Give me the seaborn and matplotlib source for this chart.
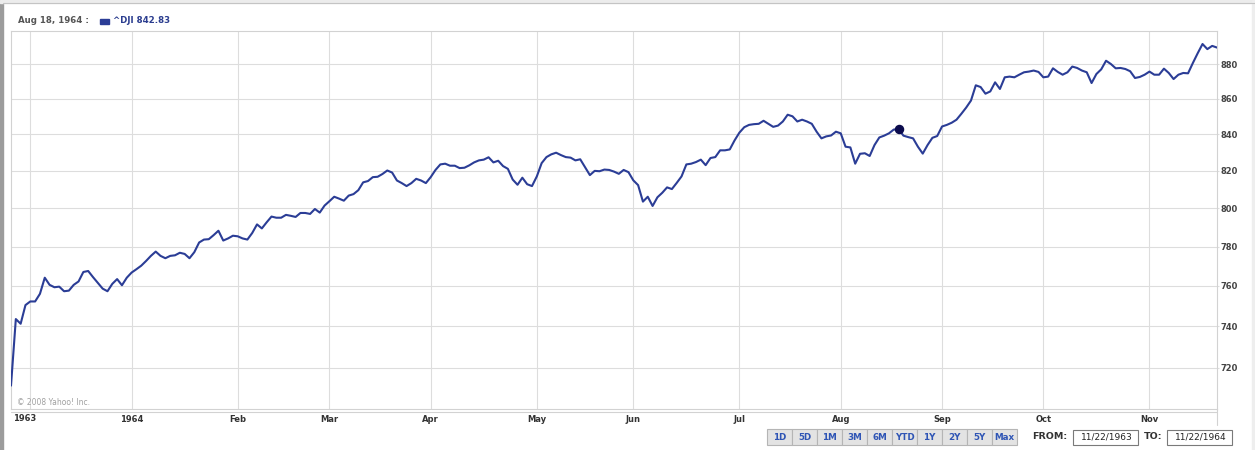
import numpy as np
import matplotlib
matplotlib.use('Agg')
import matplotlib.pyplot as plt
from matplotlib.patches import Rectangle
from matplotlib.lines import Line2D
from matplotlib.ticker import NullLocator
import seaborn as sns

# ^DJI daily close, 11/22/1963 - 11/20/1964
dji_close = [
    711.5, 743.5, 741.2, 750.4, 752.2, 752.2, 756.0, 764.1, 760.5, 759.3,
    759.6, 757.3, 757.6, 760.5, 762.2, 767.0, 767.5, 764.4, 761.5, 758.6,
    757.3, 761.0, 763.4, 760.3, 764.1, 766.7, 768.4, 770.2, 772.6, 775.2,
    777.4, 775.2, 774.0, 775.2, 775.5, 776.8, 776.2, 774.0, 777.1, 782.1,
    783.6, 783.8, 785.9, 788.2, 783.1, 784.2, 785.6, 785.3, 784.2, 783.6,
    787.0, 791.5, 789.4, 792.6, 795.6, 795.0, 795.0, 796.5, 796.0, 795.4,
    797.5, 797.5, 797.0, 799.6, 797.7, 801.4, 803.7, 806.1, 805.1, 804.0,
    806.7, 807.5, 809.6, 813.8, 814.5, 816.6, 816.8, 818.3, 820.2, 819.1,
    814.8, 813.4, 811.8, 813.4, 815.7, 814.8, 813.4, 816.6, 820.5, 823.5,
    823.9, 822.8, 822.8, 821.5, 821.7, 823.0, 824.6, 825.7, 826.1, 827.4,
    824.6, 825.5, 822.6, 821.1, 815.3, 812.5, 816.3, 812.8, 811.8, 817.0,
    824.2, 827.5, 829.0, 829.9, 828.6, 827.5, 827.2, 825.7, 826.3, 822.0,
    817.7, 820.0, 819.8, 820.7, 820.5, 819.6, 818.4, 820.5, 819.3, 814.9,
    812.3, 803.5, 806.1, 801.2, 805.8, 808.2, 811.1, 810.2, 813.5, 817.0,
    823.5, 823.9, 824.8, 826.1, 823.1, 827.0, 827.5, 831.2, 831.2, 831.7,
    836.7, 841.0, 844.0, 845.3, 845.7, 845.9, 847.6, 845.9, 844.2, 844.9,
    847.2, 851.0, 850.1, 847.2, 848.2, 847.2, 845.9, 841.5, 837.8, 838.9,
    839.4, 841.5, 840.6, 833.2, 832.8, 823.9, 829.3, 829.6, 828.1, 834.1,
    838.3, 839.3, 840.6, 842.7, 842.83, 839.3, 838.5, 837.8, 833.2, 829.4,
    834.1, 838.1, 839.1, 844.4, 845.3, 846.5, 848.2, 851.5, 855.0, 859.0,
    867.7, 866.7, 862.9, 864.2, 869.4, 865.6, 872.3, 872.7, 872.3, 873.8,
    875.2, 875.6, 876.2, 875.4, 872.3, 872.7, 877.5, 875.4, 873.8, 875.2,
    878.5, 877.7, 876.2, 875.2, 869.0, 874.2, 876.9, 881.9, 880.0, 877.5,
    877.7, 877.1, 875.8, 871.9, 872.5, 873.8, 875.6, 873.8, 873.8, 877.3,
    874.8, 871.3, 873.8, 874.8, 874.6, 880.6, 886.3, 891.7, 888.7, 890.6,
    889.6,
]
day = np.arange(len(dji_close))

# trading-day index of the first session of each month
month_pos = [4, 25, 47, 66, 87, 109, 129, 151, 172, 193, 214, 236]
month_labels = ['', '1964', 'Feb', 'Mar', 'Apr', 'May', 'Jun', 'Jul', 'Aug', 'Sep', 'Oct', 'Nov']
first_label = '1963'
y_ticks = [720, 740, 760, 780, 800, 820, 840, 860, 880]

hover_day = 184
hover_text = 'Aug 18, 1964 :'
symbol = '^DJI'
ranges = ['1D', '5D', '1M', '3M', '6M', 'YTD', '1Y', '2Y', '5Y', 'Max']
date_from = '11/22/1963'
date_to = '11/22/1964'

LINE = '#2b3d96'
GRID = '#dddddd'
W, H = 1255, 450

sns.set_style('white')
plt.rcParams['font.family'] = ['DejaVu Sans']

fig = plt.figure(figsize=(W / 100, H / 100), dpi=100)
fig.patch.set_facecolor('white')


def fx(px):
    return px / W


def fy(py):
    return 1 - py / H


# page frame bits
fig.patches.append(Rectangle((0, fy(450)), fx(2.5), 1, transform=fig.transFigure, color='#9c9c9c', zorder=0))
fig.patches.append(Rectangle((0, fy(3)), 1, fy(0) - fy(3), transform=fig.transFigure, color='#ececec', zorder=0))
fig.patches.append(Rectangle((fx(1252), 0), fx(3), 1, transform=fig.transFigure, color='#eeeeee', zorder=0))
fig.lines.append(Line2D([fx(2.5), 1], [fy(3.3), fy(3.3)], transform=fig.transFigure, color='#c4c4c4', lw=0.8))

ax = fig.add_axes([fx(11), fy(409), fx(1217) - fx(11), fy(30.5) - fy(409)])
sns.lineplot(x=day, y=dji_close, ax=ax, color=LINE, linewidth=1.5, zorder=3)
ax.scatter([day[hover_day]], [dji_close[hover_day]], s=34, color='#0b0b4d', zorder=4)

ax.set_yscale('log')
ax.set_ylim(700.6, 899.7)
ax.set_xlim(0, len(dji_close) - 1)
ax.set_yticks(y_ticks, labels=[str(v) for v in y_ticks])
ax.yaxis.set_minor_locator(NullLocator())
ax.set_xticks(month_pos, labels=month_labels)
ax.xaxis.set_minor_locator(NullLocator())
ax.yaxis.tick_right()
ax.set_xlabel('')
ax.set_ylabel('')
ax.grid(True, color=GRID, lw=0.8, zorder=0)
ax.set_axisbelow(True)
for sp in ax.spines.values():
    sp.set_color('#d2d2d2')
    sp.set_linewidth(0.8)
ax.tick_params(axis='y', length=1.5, width=0.8, color=GRID, pad=1.0,
               labelsize=6, labelcolor='#444444')
ax.tick_params(axis='x', length=0, pad=4.2, labelsize=6, labelcolor='#333333')
for lab in ax.get_xticklabels() + ax.get_yticklabels():
    lab.set_fontweight('bold')

ax.annotate(first_label, xy=(0, 0), xycoords=('data', 'axes fraction'),
            xytext=(2, -9.5), textcoords='offset pixels', ha='left', va='center',
            fontsize=6, fontweight='bold', color='#333333')
ax.text(0.005, 0.018, '\u00a9 2008 Yahoo! Inc.', transform=ax.transAxes,
        fontsize=5.5, color='#a0a0a0', ha='left', va='center')

# x-axis strip under the plot
fig.lines.append(Line2D([fx(11), fx(1217)], [fy(411.8), fy(411.8)], transform=fig.transFigure, color='#d2d2d2', lw=0.8))
fig.lines.append(Line2D([fx(1217), fx(1217)], [fy(409), fy(425)], transform=fig.transFigure, color='#d2d2d2', lw=0.8))

# header
fig.text(fx(18), fy(20.5), hover_text, fontsize=6.2, fontweight='bold', color='#555555', va='center')
fig.patches.append(Rectangle((fx(100), fy(23.5)), fx(8.5), fy(18.5) - fy(23.5), transform=fig.transFigure, color=LINE))
fig.text(fx(113), fy(20.5), f'{symbol} {dji_close[hover_day]:.2f}', fontsize=6.2, fontweight='bold',
         color='#2b3d8f', va='center')

# range buttons
bx0, bx1 = 767.3, 1016.7
bw = (bx1 - bx0) / len(ranges)
for k, r in enumerate(ranges):
    x0 = bx0 + k * bw
    fig.patches.append(Rectangle((fx(x0), fy(444.5)), fx(bw), fy(429.3) - fy(444.5), transform=fig.transFigure,
                                 facecolor='#e3e3e3', edgecolor='#b5b5b5', lw=0.8))
    fig.text(fx(x0 + bw / 2), fy(437), r, fontsize=6.3, fontweight='bold', color='#2f55b5',
             ha='center', va='center')

# date range boxes
fig.text(fx(1050), fy(436.5), 'FROM:', fontsize=6.8, fontweight='bold', color='#333333', ha='center', va='center')
fig.text(fx(1153), fy(436.5), 'TO:', fontsize=6.8, fontweight='bold', color='#333333', ha='center', va='center')
for (a, b), txt in [((1073.3, 1137.7), date_from), ((1167.3, 1231.7), date_to)]:
    fig.patches.append(Rectangle((fx(a), fy(445)), fx(b - a), fy(429.5) - fy(445), transform=fig.transFigure,
                                 facecolor='white', edgecolor='#7a7a7a', lw=0.8))
    fig.text(fx((a + b) / 2 + 1), fy(437), txt, fontsize=6.5, color='#222222', ha='center', va='center')

fig.savefig('out.png', dpi=100, facecolor=fig.get_facecolor())
